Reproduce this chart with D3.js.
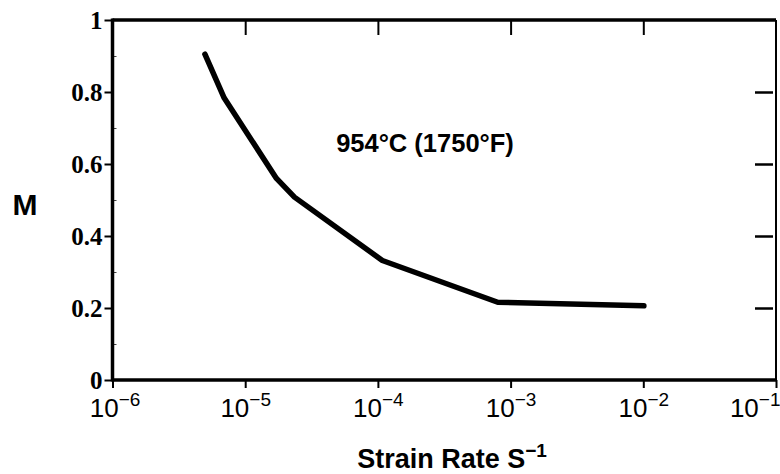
<!DOCTYPE html>
<html><head><meta charset="utf-8">
<script src="https://cdn.jsdelivr.net/npm/d3@7/dist/d3.min.js"></script>
<style>body{margin:0;background:#fff}svg{display:block}</style>
</head><body>
<svg id="c" width="780" height="474"></svg>
<script>
// Data
const strainRate = [4.97e-6, 6.95e-6, 1.72e-5, 2.35e-5, 1.08e-4, 8.0e-4, 1.01e-2];
const mValues    = [0.905, 0.783, 0.560, 0.508, 0.332, 0.216, 0.206];
const xTickExps  = [-6, -5, -4, -3, -2, -1];
const yTickValues = [0, 0.2, 0.4, 0.6, 0.8, 1];
const yTickLabels = ["0", "0.2", "0.4", "0.6", "0.8", "1"];
const curveLabel = "954°C (1750°F)";
const xTitle = "Strain Rate S";
const xTitleSup = "−1";
const yTitle = "M";

const svg = d3.select("#c");
const L = 112.5, R = 776, T = 20, B = 380;
const x = d3.scaleLog().domain([1e-6, 1e-1]).range([L, R]);
const y = d3.scaleLinear().domain([0, 1]).range([B, T]);
const xTickVals = xTickExps.map(e => Math.pow(10, e));

// Bottom axis
const gB = svg.append("g").attr("transform", `translate(0,${B})`)
  .call(d3.axisBottom(x).tickValues(xTickVals).tickSize(8).tickSizeOuter(0).tickFormat(""));
gB.select(".domain").remove();
gB.selectAll(".tick line").attr("stroke", "#000").attr("stroke-width", 2);
gB.selectAll(".tick").append("text")
  .attr("y", 37)
  .attr("text-anchor", (d, i) => i === xTickExps.length - 1 ? "end" : "middle")
  .attr("x", (d, i) => i === xTickExps.length - 1 ? 780 - x(d) : (i === 0 ? 2 : 0))
  .attr("fill", "#000")
  .style("font-family", "Liberation Sans, Arial, sans-serif").style("font-size", "26px")
  .each(function(d, i) {
    const t = d3.select(this);
    t.append("tspan").text("10");
    t.append("tspan").attr("dy", -11).style("font-size", "19px").text("−" + (-xTickExps[i]));
  });

// Top axis (inward ticks)
const gT = svg.append("g").attr("transform", `translate(0,${T})`)
  .call(d3.axisTop(x).tickValues(xTickVals.slice(1, 5)).tickSize(-15).tickSizeOuter(0).tickFormat(""));
gT.select(".domain").remove();
gT.selectAll(".tick line").attr("stroke", "#000").attr("stroke-width", 2);

// Left axis
const gL = svg.append("g").attr("transform", `translate(${L},0)`)
  .call(d3.axisLeft(y).tickValues(yTickValues).tickSize(8).tickSizeOuter(0)
    .tickFormat((d, i) => yTickLabels[i]));
gL.select(".domain").remove();
gL.selectAll(".tick line").attr("stroke", "#000").attr("stroke-width", 2);
gL.selectAll(".tick text").attr("x", -10).attr("dy", "0.33em").attr("fill", "#000")
  .style("font-family", "Liberation Serif, Times New Roman, serif")
  .style("font-size", "25px").style("font-weight", "bold");

// Left minor inward ticks
const gLm = svg.append("g").attr("transform", `translate(${L},0)`)
  .call(d3.axisLeft(y).tickValues([0.1, 0.3, 0.5, 0.7, 0.9]).tickSize(-4).tickSizeOuter(0).tickFormat(""));
gLm.select(".domain").remove();
gLm.selectAll(".tick line").attr("stroke", "#444").attr("stroke-width", 1);

// Right axis (detached inward ticks)
const gR = svg.append("g").attr("transform", `translate(755,0)`)
  .call(d3.axisRight(y).tickValues([0.2, 0.4, 0.6, 0.8]).tickSize(18).tickSizeOuter(0).tickFormat(""));
gR.select(".domain").remove();
gR.selectAll(".tick line").attr("stroke", "#000").attr("stroke-width", 2.5);

// Frame
svg.append("line").attr("x1", L).attr("x2", R).attr("y1", T).attr("y2", T).attr("stroke", "#000").attr("stroke-width", 3.5);
svg.append("line").attr("x1", L).attr("x2", R + 1).attr("y1", B).attr("y2", B).attr("stroke", "#000").attr("stroke-width", 3.5);
svg.append("line").attr("x1", L).attr("x2", L).attr("y1", T - 1.5).attr("y2", B + 1.5).attr("stroke", "#000").attr("stroke-width", 3.5);
svg.append("line").attr("x1", R).attr("x2", R).attr("y1", T).attr("y2", B).attr("stroke", "#000").attr("stroke-width", 2);

// Curve
const pts = strainRate.map((s, i) => [s, mValues[i]]);
svg.append("path").datum(pts)
  .attr("d", d3.line().x(d => x(d[0])).y(d => y(d[1])))
  .attr("fill", "none").attr("stroke", "#000").attr("stroke-width", 5.5)
  .attr("stroke-linecap", "round").attr("stroke-linejoin", "round");

// Curve label
svg.append("text").attr("x", 425).attr("y", 152).attr("text-anchor", "middle")
  .style("font-family", "Liberation Sans, Arial, sans-serif").style("font-size", "25.5px").style("font-weight", "bold")
  .text(curveLabel);

// Axis titles
const xt = svg.append("text").attr("x", 452).attr("y", 468).attr("text-anchor", "middle")
  .style("font-family", "Liberation Sans, Arial, sans-serif").style("font-size", "27px").style("font-weight", "bold");
xt.append("tspan").text(xTitle);
xt.append("tspan").attr("dy", -11).style("font-size", "19px").text(xTitleSup);

svg.append("text").attr("x", 25).attr("y", 215).attr("text-anchor", "middle")
  .style("font-family", "Liberation Sans, Arial, sans-serif").style("font-size", "30px").style("font-weight", "bold")
  .text(yTitle);
</script>
</body></html>
